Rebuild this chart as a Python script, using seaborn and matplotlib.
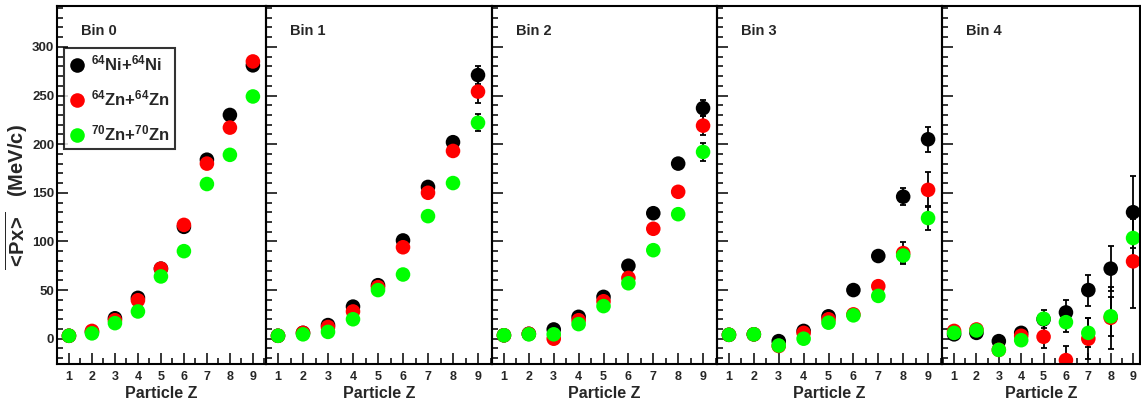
import numpy as np
import pandas as pd
import seaborn as sns
import matplotlib
import matplotlib.pyplot as plt
from matplotlib.lines import Line2D
from matplotlib.ticker import MultipleLocator

sns.set_style('ticks')
plt.rcParams['font.family'] = ['Liberation Sans', 'DejaVu Sans']
plt.rcParams['font.weight'] = 'bold'
plt.rcParams['mathtext.fontset'] = 'custom'
plt.rcParams['mathtext.rm'] = 'Liberation Sans:bold'
plt.rcParams['mathtext.bf'] = 'Liberation Sans:bold'
plt.rcParams['mathtext.it'] = 'Liberation Sans:bold'

# значения
particle_z = [1, 2, 3, 4, 5, 6, 7, 8, 9]
bins = ['Bin 0', 'Bin 1', 'Bin 2', 'Bin 3', 'Bin 4']
systems = [r'$^{64}$Ni+$^{64}$Ni', r'$^{64}$Zn+$^{64}$Zn', r'$^{70}$Zn+$^{70}$Zn']
colours = ['#000000', '#ff0000', '#00ff00']

ni64_px = [
    [3, 7, 21, 42, 72, 115, 184, 230, 281],
    [3, 6, 14, 33, 55, 101, 156, 202, 271],
    [3.5, 5, 9.5, 22.5, 43, 75, 129, 180, 237],
    [4, 4.5, -2.5, 8, 23, 50, 85, 146, 205],
    [4.5, 6, -2.5, 6, 20, 27, 50, 72, 130],
]
zn64_px = [
    [3, 8, 19, 39.5, 72, 117, 180, 217, 285],
    [3, 6, 12, 28, 53, 94, 150, 193, 254],
    [3.5, 5, 0, 19, 38.5, 62.5, 113, 151, 219],
    [4, 4.5, -7.5, 6, 20, 25, 54, 88, 153],
    [8, 9.5, -11.5, 3, 2, -22, 0, 21.5, 79.5],
]
zn70_px = [
    [3, 5.5, 16, 28, 64, 90, 159, 189, 249],
    [3, 4.5, 7, 20, 50, 66, 126, 160, 222],
    [3.5, 4.5, 4.5, 15, 33.5, 57, 91, 128, 192],
    [4, 4.5, -7, 0, 16.5, 24, 44, 85.5, 124],
    [6, 8.5, -11.5, -1.5, 20.5, 17, 6, 23, 103.5],
]

ni64_err = [
    [0.5, 0.5, 0.8, 1, 1.5, 2, 3, 4, 5],
    [0.5, 0.5, 1, 1, 1.5, 2, 3, 4, 9],
    [0.5, 0.5, 1, 1, 1.5, 2, 3, 4, 8],
    [0.5, 0.5, 1, 1.5, 2, 3, 4, 8.5, 13],
    [1, 1, 1.5, 2, 4, 13, 16, 23, 37],
]
zn64_err = [
    [0.5, 0.5, 0.8, 1, 1.5, 2, 3, 4, 5],
    [0.5, 0.5, 1, 1, 1.5, 2, 3, 4, 12],
    [0.5, 0.5, 1, 1, 1.5, 2, 3, 4, 10],
    [0.5, 0.5, 1, 1.5, 2, 3, 5, 11, 18],
    [1, 1, 2, 3, 12, 14, 21, 32, 48],
]
zn70_err = [
    [0.5, 0.5, 0.8, 1, 1.5, 2, 3, 4, 5],
    [0.5, 0.5, 1, 1, 1.5, 2, 3, 4, 8.5],
    [0.5, 0.5, 1, 1, 1.5, 2, 3, 4, 9],
    [0.5, 0.5, 1, 1.5, 2, 3, 4, 8, 12],
    [1, 1, 2, 3, 9.5, 10, 15, 20, 20],
]

# длинная таблица для seaborn
rows = []
for b, name in enumerate(bins):
    for s, (vals, errs) in enumerate(zip([ni64_px, zn64_px, zn70_px], [ni64_err, zn64_err, zn70_err])):
        for i, zz in enumerate(particle_z):
            rows.append({'bin': name, 'system': systems[s], 'Z': zz,
                         'px': vals[b][i], 'err': errs[b][i]})
df = pd.DataFrame(rows)

W, H = 1141, 400
fig = plt.figure(figsize=(W / 100, H / 100), dpi=100)

edges = [57, 266, 492, 717, 942, 1140]
xlims = [(0.48, 9.57), (0.52, 9.56), (0.52, 9.56), (0.52, 9.56), (0.46, 9.31)]
bottom, top = 364, 6

for b, name in enumerate(bins):
    x0, x1 = edges[b], edges[b + 1]
    ax = fig.add_axes([x0 / W, (H - bottom) / H, (x1 - x0) / W, (bottom - top) / H])
    sub = df[df['bin'] == name]
    for s, sysname in enumerate(systems):
        d = sub[sub['system'] == sysname]
        ax.errorbar(d['Z'], d['px'], yerr=d['err'], fmt='none', ecolor='black',
                    elinewidth=1.3, capsize=2, capthick=1.3, zorder=1)
    sns.scatterplot(data=sub, x='Z', y='px', hue='system', hue_order=systems,
                    palette=colours, s=110, edgecolor='none', linewidth=0,
                    legend=False, ax=ax, zorder=2)
    ax.set_xlim(*xlims[b])
    ax.set_ylim(-26, 342)
    ax.xaxis.set_major_locator(MultipleLocator(1))
    ax.xaxis.set_minor_locator(MultipleLocator(0.5))
    ax.yaxis.set_major_locator(MultipleLocator(50))
    ax.yaxis.set_minor_locator(MultipleLocator(10))
    ax.tick_params(which='major', direction='in', length=8, width=1.3,
                   labelsize=9, pad=5, top=False, right=False)
    ax.tick_params(which='minor', direction='in', length=4, width=1.3,
                   top=False, right=False)
    ax.tick_params(axis='y', labelsize=9.5, pad=2)
    for lab in ax.get_xticklabels() + ax.get_yticklabels():
        lab.set_fontweight('bold')
    for sp in ax.spines.values():
        sp.set_linewidth(1.5)
        sp.set_color('black')
    ax.set_xlabel('Particle Z', fontsize=11.5, fontweight='bold', labelpad=2)
    ax.set_ylabel('')
    if b > 0:
        ax.set_yticklabels([])
    ax.text(24 / (x1 - x0), 0.93, name, transform=ax.transAxes, fontsize=10.5,
            fontweight='bold', va='center', ha='left')
    ax.patch.set_alpha(0)
    if b == 0:
        handles = [Line2D([], [], ls='none', marker='o', markersize=10.5,
                          markerfacecolor=c, markeredgecolor='none') for c in colours]
        leg = ax.legend(handles, systems, loc='upper left', bbox_to_anchor=(0.033, 0.883),
                        fontsize=12, frameon=True, fancybox=False, handlelength=0.9,
                        handletextpad=0.35, labelspacing=0.9, borderpad=0.35,
                        borderaxespad=0)
        leg.get_frame().set_edgecolor('black')
        leg.get_frame().set_linewidth(1.5)
        for t in leg.get_texts():
            t.set_fontweight('bold')

fig.text(17 / W, 0.507, r'$\overline{<\!Px\!>}$   (MeV/c)', rotation=90, fontsize=14.5,
         fontweight='bold', ha='center', va='center')

fig.savefig('out.png', dpi=100, facecolor='white')
